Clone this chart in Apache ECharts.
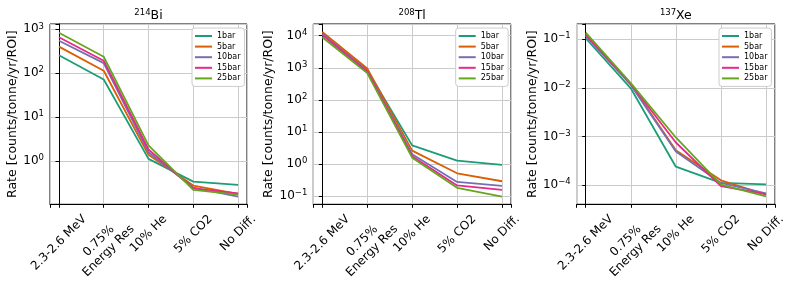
<!DOCTYPE html>
<html><head><meta charset="utf-8">
<script src="https://cdn.jsdelivr.net/npm/echarts@6/dist/echarts.min.js"></script>
<style>html,body{margin:0;padding:0;background:#fff}#c{width:793px;height:283px}</style>
</head><body><div id="c"></div>
<script>
// ---------- data ----------
const categories = ['2.3-2.6 MeV', '0.75%\nEnergy Res', '10% He', '5% CO2', 'No Diff.'];
const pressures = ['1bar', '5bar', '10bar', '15bar', '25bar'];

const bi214_1bar  = [256, 72, 1.13, 0.344, 0.29];
const bi214_5bar  = [403, 114, 1.4, 0.28, 0.18];
const bi214_10bar = [551, 170, 1.6, 0.25, 0.157];
const bi214_15bar = [658, 193, 1.85, 0.243, 0.185];
const bi214_25bar = [838, 238, 2.3, 0.223, 0.175];

const tl208_1bar  = [11000, 850, 3.8, 1.27, 0.93];
const tl208_5bar  = [13000, 950, 2.6, 0.51, 0.288];
const tl208_10bar = [11500, 800, 2.0, 0.275, 0.206];
const tl208_15bar = [10500, 750, 1.75, 0.213, 0.155];
const tl208_25bar = [9000, 680, 1.57, 0.18, 0.096];

const xe137_1bar  = [0.105, 0.0098, 2.38e-4, 1.1e-4, 1.03e-4];
const xe137_5bar  = [0.128, 0.012, 5.2e-4, 1.25e-4, 6.3e-5];
const xe137_10bar = [0.118, 0.0115, 4.9e-4, 1.1e-4, 6.7e-5];
const xe137_15bar = [0.124, 0.012, 7.5e-4, 9.5e-5, 6.5e-5];
const xe137_25bar = [0.137, 0.0125, 9.5e-4, 1.02e-4, 5.8e-5];

const panelTitles = [['214', 'Bi'], ['208', 'Tl'], ['137', 'Xe']];
const yAxisName = 'Rate [counts/tonne/yr/ROI]';
const yLimits = [[0.105, 1320], [0.055, 23200], [4.0e-5, 0.2065]];

// ---------- layout / style ----------
const FONT = 'DejaVu Sans';
const colors = ['#1b9e77', '#d95f02', '#7570b3', '#e7298a', '#66a61e'];
const grids = [
  {left: 50, top: 24, width: 197, height: 180.3},
  {left: 313.3, top: 24, width: 197.7, height: 180.3},
  {left: 576.7, top: 24, width: 198.3, height: 180.3}
];
const nameGaps = [29, 37, 35];
const legendLeft = [192, 455.7, 719];
const panelData = [
  [bi214_1bar, bi214_5bar, bi214_10bar, bi214_15bar, bi214_25bar],
  [tl208_1bar, tl208_5bar, tl208_10bar, tl208_15bar, tl208_25bar],
  [xe137_1bar, xe137_5bar, xe137_10bar, xe137_15bar, xe137_25bar]
];

// rotated x labels centred on their tick (matplotlib style)
const ctx = document.createElement('canvas').getContext('2d');
ctx.font = '12px "DejaVu Sans"';
const LH = 14;
const xRich = {};
categories.forEach((c, i) => {
  const lines = c.split('\n');
  const w = Math.max(...lines.map(l => ctx.measureText(l).width));
  const h = lines.length * LH;
  const H = (w + h) / Math.SQRT2;
  const D = 8 + H / 2;
  const P = D * Math.SQRT2;
  xRich['f' + i] = {fontSize: 12, fontFamily: FONT, color: '#000', padding: [P + 1, P, 1, 0]};
  xRich['n' + i] = {fontSize: 12, fontFamily: FONT, color: '#000', padding: [1, P, 1, 0]};
});
function xFormatter(v) {
  const i = Math.round(v);
  if (Math.abs(v - i) > 1e-6 || i < 0 || i >= categories.length) return '';
  const lines = categories[i].split('\n');
  return lines.map((l, k) => '{' + (k === 0 ? 'f' : 'n') + i + '|' + l + '}').join('\n');
}
function yFormatter(v) {
  const e = Math.log10(v);
  const r = Math.round(e);
  if (Math.abs(e - r) > 1e-6) return '';
  return '{b|10}{s|' + (r < 0 ? '\u2212' + (-r) : r) + '}';
}

const option = {
  animation: false,
  backgroundColor: '#fff',
  title: panelTitles.map((t, p) => ({
    text: '{s|' + t[0] + '}{b|' + t[1] + '}',
    left: grids[p].left + grids[p].width / 2,
    textAlign: 'center',
    top: 8,
    padding: 0,
    textStyle: {
      fontWeight: 'normal',
      rich: {
        s: {fontSize: 8.5, fontFamily: FONT, fontWeight: 'normal', color: '#000', padding: [0, 0, 6, 0]},
        b: {fontSize: 12.5, fontFamily: FONT, fontWeight: 'normal', color: '#000'}
      }
    }
  })),
  legend: legendLeft.map((l, p) => ({
    left: l, top: 28, orient: 'vertical',
    data: pressures, icon: 'rect', itemWidth: 17, itemHeight: 2, itemGap: 2.6,
    selectedMode: false,
    textStyle: {fontSize: 8, fontFamily: FONT, color: '#000'},
    backgroundColor: '#fff', borderColor: '#cccccc', borderWidth: 1, borderRadius: 3,
    padding: [4, 4, 4, 3]
  })),
  grid: grids.map(g => Object.assign({show: true, borderColor: '#000', borderWidth: 1, backgroundColor: 'transparent'}, g)),
  xAxis: grids.map((g, p) => ({
    type: 'value', gridIndex: p, min: -0.2, max: 4.2,
    axisLine: {show: true, lineStyle: {color: '#000', width: 1}},
    axisTick: {show: true, length: 3.5, lineStyle: {color: '#000'}},
    splitLine: {show: true, lineStyle: {color: '#cbcbcb', width: 1}},
    axisLabel: {rotate: 45, align: 'center', verticalAlign: 'middle', margin: 0,
      formatter: xFormatter, rich: xRich, fontSize: 12, fontFamily: FONT, color: '#000'}
  })),
  yAxis: grids.map((g, p) => ({
    type: 'log', logBase: 10, gridIndex: p, min: yLimits[p][0], max: yLimits[p][1],
    name: yAxisName, nameLocation: 'middle', nameRotate: 90, nameGap: nameGaps[p],
    nameTextStyle: {fontSize: 12.5, fontFamily: FONT, color: '#000'},
    axisLine: {show: true, lineStyle: {color: '#000', width: 1}},
    axisTick: {show: true, length: 3.5, lineStyle: {color: '#000'}},
    splitLine: {show: true, lineStyle: {color: '#cbcbcb', width: 1}},
    axisLabel: {margin: 6, formatter: yFormatter, color: '#000',
      rich: {
        b: {fontSize: 12, fontFamily: FONT, color: '#000'},
        s: {fontSize: 8.5, fontFamily: FONT, color: '#000', padding: [0, 0, 6, 0]}
      }}
  })),
  series: []
};

panelData.forEach((arrs, p) => {
  arrs.forEach((vals, s) => {
    option.series.push({
      type: 'line', name: pressures[s], xAxisIndex: p, yAxisIndex: p,
      data: vals.map((v, i) => [i, v]),
      showSymbol: false, symbol: 'none',
      color: colors[s],
      lineStyle: {color: colors[s], width: 1.8},
      z: 2 + s
    });
  });
});

const chart = echarts.init(document.getElementById('c'), null, {renderer: 'canvas'});
chart.setOption(option);
</script>
</body></html>
